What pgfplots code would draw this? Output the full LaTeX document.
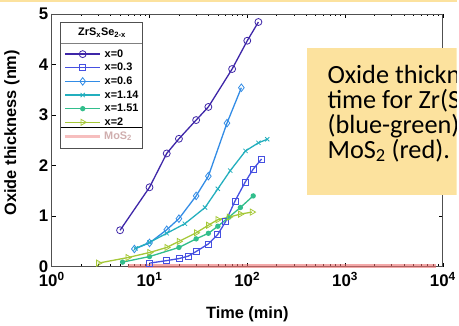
\documentclass[border=0pt]{standalone}
\usepackage{pgfplots}
\pgfplotsset{compat=1.18}
\usepackage{fontspec}
\setmainfont{Liberation Sans}
\newfontfamily\carlito{Carlito}
\definecolor{boxyellow}{RGB}{252,226,158}
\definecolor{cA}{RGB}{62,38,168}
\definecolor{cB}{RGB}{70,80,225}
\definecolor{cC}{RGB}{50,140,230}
\definecolor{cD}{RGB}{35,175,190}
\definecolor{cE}{RGB}{50,190,140}
\definecolor{cF}{RGB}{165,200,55}
\definecolor{cM}{RGB}{235,110,110}
\definecolor{axgray}{RGB}{80,80,80}
\begin{document}
\begin{tikzpicture}
\begin{scope}[x=1bp,y=1bp]
\path[use as bounding box] (0,0) rectangle (459,325);
\fill[white] (0,0) rectangle (459,325);
\fill[boxyellow] (0,323) rectangle (459,325);
\end{scope}
\begin{axis}[
  at={(52bp,57bp)}, anchor=south west,
  width=393bp, height=254bp, scale only axis,
  xmode=log, xmin=1, xmax=10000, ymin=0, ymax=5,
  xtick={1,10,100,1000,10000},
  xticklabels={10\textsuperscript{0},10\textsuperscript{1},10\textsuperscript{2},10\textsuperscript{3},10\textsuperscript{4}},
  ytick={0,1,2,3,4,5}, yticklabels={0,1,2,3,4,5},
  tick align=inside, major tick length=4bp, minor tick length=2.5bp,
  axis line style={axgray, line width=0.8bp},
  every tick/.style={black, line width=0.6bp},
  tick label style={font=\bfseries\fontsize{17}{17}\selectfont},
  xticklabel style={yshift=-2bp},
  xlabel={Time (min)}, ylabel={Oxide thickness (nm)},
  label style={font=\bfseries\fontsize{16.5}{16.5}\selectfont},
  xlabel style={at={(axis description cs:0.5,-0.19)}, anchor=center},
  ylabel style={at={(axis description cs:-0.102,0.53)}, anchor=center},
  clip=false,
  legend cell align=left,
  legend style={draw=none, fill=none, at={(axis description cs:0.033,0.8606)}, anchor=north west,
    font=\bfseries\fontsize{11}{11}\selectfont, inner sep=0pt, outer sep=0pt,
    row sep=3.7bp, column sep=4bp,
    nodes={inner sep=0pt, text height=8bp, text depth=2bp}},
  legend image code/.code={\draw[mark repeat=2,mark phase=2,#1] plot coordinates {(0bp,0bp) (17.5bp,0bp) (35bp,0bp)};},
  every axis plot/.append style={line width=1.3bp},
]
\addplot[cM, opacity=0.6, line width=4bp, forget plot] coordinates {(6,0.02) (10,0.02) (100,0.02) (1000,0.02) (8500,0.02)};
\addplot[cA, mark=o, mark size=3.5bp, mark options={line width=0.8bp}] coordinates {(5,0.72) (10,1.57) (15,2.24) (20,2.53) (30,2.90) (40,3.16) (70,3.91) (100,4.47) (130,4.84)};
\addlegendentry{x=0}
\addplot[cB, mark=square, mark size=3bp, mark options={line width=0.8bp}] coordinates {(10,0.07) (15,0.12) (20,0.16) (25,0.21) (30,0.30) (40,0.45) (50,0.64) (60,0.89) (75,1.30) (95,1.67) (115,1.93) (140,2.13)};
\addlegendentry{x=0.3}
\addplot[cC, mark=diamond, mark size=3.8bp, mark options={line width=0.8bp}] coordinates {(7,0.35) (10,0.47) (15,0.73) (20,0.95) (30,1.40) (40,1.79) (62,2.84) (87,3.54)};
\addlegendentry{x=0.6}
\addplot[cD, mark=x, mark size=3bp, mark options={line width=0.8bp}] coordinates {(7.2,0.36) (10,0.48) (15,0.66) (23,0.85) (37,1.17) (50,1.54) (67,1.90) (96,2.29) (130,2.45) (160,2.52)};
\addlegendentry{x=1.14}
\addplot[cE, mark=*, mark size=2bp] coordinates {(5.3,0.09) (10,0.20) (20,0.38) (30,0.55) (40,0.66) (50,0.80) (65,0.98) (85,1.17) (115,1.40)};
\addlegendentry{x=1.51}
\addplot[cF, mark=triangle, mark size=3.5bp, mark options={rotate=-90, line width=0.8bp}] coordinates {(3,0.07) (6,0.18) (10,0.28) (15,0.38) (20,0.50) (30,0.67) (40,0.82) (50,0.93) (65,0.98) (85,1.04) (112,1.08)};
\addlegendentry{x=2}
\end{axis}
\begin{scope}[x=1bp,y=1bp]
% legend frame
\draw[axgray, line width=0.9bp] (61,176) rectangle (142.7,302.3);
\draw[gray, line width=0.6bp] (61,281.7) -- (142.7,281.7);
\draw[black, line width=1.2bp] (61,196.7) -- (142.7,196.7);
\node[font=\bfseries\fontsize{11}{11}\selectfont, inner sep=0pt] at (102.5,292) {ZrS\textsubscript{x}Se\textsubscript{2-x}};
\draw[cM!45, line width=3bp] (65,188.3) -- (100,188.3);
\node[anchor=west, font=\bfseries\fontsize{11}{11}\selectfont, text=gray!55!cM!60, inner sep=0pt] at (104.5,188.3) {MoS\textsubscript{2}};
% text box
\begin{scope}
\clip (0,0) rectangle (459,325);
\fill[boxyellow] (309,129) rectangle (480,277);
\begin{scope}[every node/.style={anchor=base west, inner sep=0pt, font=\carlito\fontsize{26.5}{25}\selectfont}]
\node at (329,241) {Oxide thickness vs.};
\node at (329,216) {time for Zr(S,Se)\textsubscript{2}};
\node at (329,191) {(blue-green) and};
\node at (329,166) {MoS\textsubscript{2} (red).};
\end{scope}
\end{scope}
\end{scope}
\end{tikzpicture}
\end{document}
